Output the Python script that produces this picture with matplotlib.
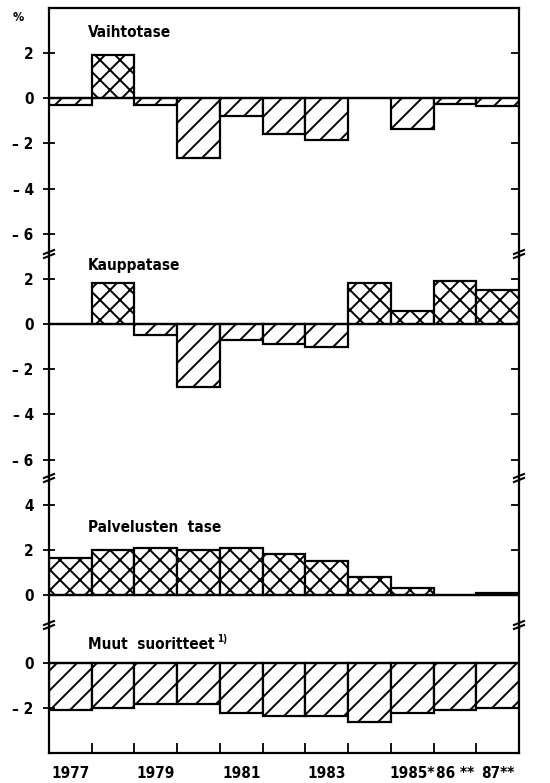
import matplotlib
matplotlib.use("Agg")
import matplotlib.pyplot as plt
import matplotlib.backend_bases as bb
from matplotlib.lines import Line2D
import numpy as np

# sparser hatching, like the printed original
_orig_hatch = bb.GraphicsContextBase.get_hatch_path
bb.GraphicsContextBase.get_hatch_path = lambda self, density=10: _orig_hatch(self, density)

plt.rcParams['font.family'] = ['Liberation Sans Narrow', 'DejaVu Sans']
plt.rcParams['font.stretch'] = 'condensed'
plt.rcParams['font.weight'] = 'bold'
plt.rcParams['hatch.linewidth'] = 1.4

# data, % of GDP
years = ['1977', '1978', '1979', '1980', '1981', '1982', '1983', '1984', '1985', '1986', '1987']
year_labels = ['1977', '', '1979', '', '1981', '', '1983', '', '1985*', '86 **', '87**']
vaihtotase = [-0.3, 1.9, -0.3, -2.65, -0.8, -1.6, -1.85, 0.0, -1.35, -0.25, -0.35]
kauppatase = [0.0, 1.8, -0.5, -2.8, -0.7, -0.9, -1.0, 1.8, 0.6, 1.9, 1.5]
palvelut = [1.65, 2.0, 2.1, 2.0, 2.1, 1.8, 1.5, 0.8, 0.3, 0.0, 0.1]
muut = [-2.1, -2.0, -1.8, -1.8, -2.2, -2.35, -2.35, -2.6, -2.2, -2.1, -2.0]

panels = [
    (vaihtotase, 'Vaihtotase', (-7, 4), [2, 0, -2, -4, -6], 0.90),
    (kauppatase, 'Kauppatase', (-7, 3), [2, 0, -2, -4, -6], 0.96),
    (palvelut, 'Palvelusten  tase', (-1.5, 5), [4, 2, 0], 0.694),
    (muut, 'Muut  suoritteet', (-4, 1.5), [0, -2], 0.874),
]

fig = plt.figure(figsize=(5.5, 7.83), dpi=100)
gs = fig.add_gridspec(4, 1, height_ratios=[11, 10, 6.5, 5.5], hspace=0,
                      left=0.089, right=0.944, top=0.99, bottom=0.038)

x = np.arange(len(years))
axes = []
titles = []
for i, (vals, title, ylim, yt, ty) in enumerate(panels):
    ax = fig.add_subplot(gs[i])
    axes.append(ax)
    bars = ax.bar(x, vals, width=1, color='white', edgecolor='black', linewidth=1.6)
    for b, v in zip(bars, vals):
        b.set_hatch('x' if v > 0 else '/')
    ax.axhline(0, color='black', lw=1.6, zorder=3)
    ax.set_xlim(-0.5, len(years) - 0.5)
    ax.set_ylim(*ylim)
    ax.set_yticks(yt)
    ax.set_yticklabels([f'\u2013 {abs(t)}' if t < 0 else str(t) for t in yt], fontsize=11)
    ax.tick_params(axis='y', direction='inout', length=8, width=1.3, pad=7)
    for s in ax.spines.values():
        s.set_linewidth(1.6)
    if i > 0:
        ax.spines['top'].set_visible(False)
    if i < 3:
        ax.spines['bottom'].set_visible(False)
        ax.tick_params(axis='x', bottom=False, labelbottom=False)
    # ticks on the right edge, inward only
    axr = ax.twinx()
    axr.set_ylim(*ylim)
    axr.set_yticks(yt)
    axr.tick_params(axis='y', direction='in', length=6, width=1.3, labelright=False)
    for s in axr.spines.values():
        s.set_visible(False)
    titles.append(ax.text(0.083, ty, title, transform=ax.transAxes,
                          fontsize=11, va='center'))

axes[3].annotate('1)', xy=(1, 0.55), xycoords=titles[3], xytext=(2, 0),
                 textcoords='offset points', fontsize=7, va='bottom')

# x axis: ticks at bar boundaries, labels under bars
ax = axes[3]
ax.set_xticks(x[:-1] + 0.5)
ax.set_xticklabels([])
ax.tick_params(axis='x', direction='in', length=7, width=1.3)
ax.set_xticks(x, minor=True)
ax.set_xticklabels(year_labels, minor=True, fontsize=11)
ax.tick_params(axis='x', which='minor', length=0, pad=9)

fig.text(0.034, 0.978, '%', fontsize=9, ha='center', va='center')

# axis break marks between the panels
for yb in [255, 479, 626]:
    for xs in [49, 519]:
        for dy in (-3, 1):
            y0 = 1 - (yb + dy) / 783
            fig.add_artist(Line2D([(xs - 5) / 550, (xs + 5) / 550],
                                  [y0 - 2 / 783, y0 + 2 / 783],
                                  color='black', lw=1.5))

fig.savefig('out.png', dpi=100)
